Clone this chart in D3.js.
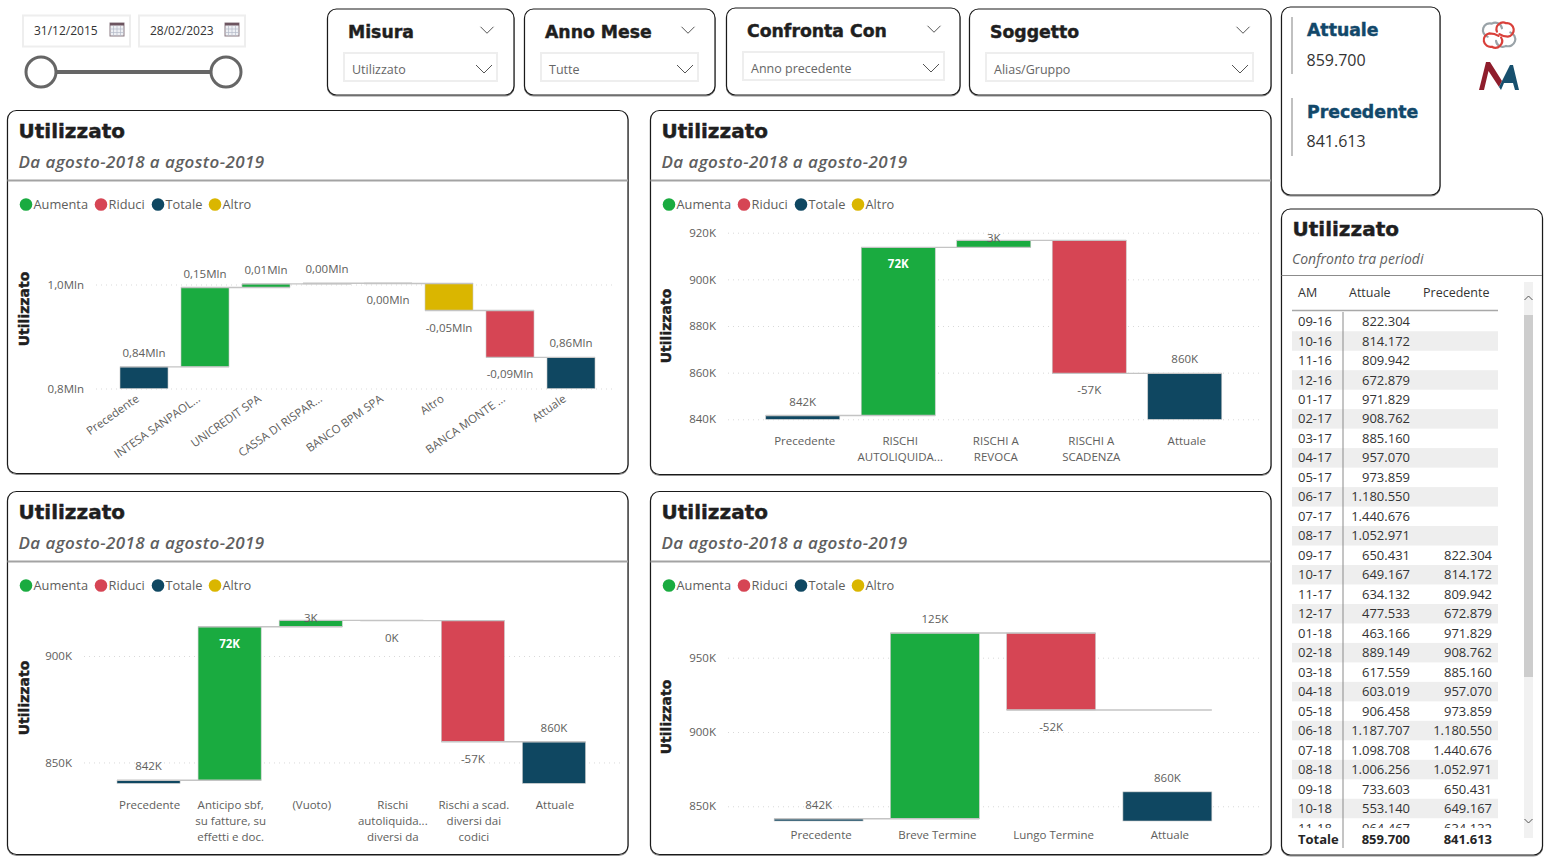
<!DOCTYPE html>
<html>
<head>
<meta charset="utf-8">
<script src="https://cdn.jsdelivr.net/npm/d3@7"></script>
<style>
  html, body { margin: 0; background: #fff; }
  svg { display: block; }
  text { font-family: "Open Sans", sans-serif; }
  .heavy { font-family: "DejaVu Sans", sans-serif; font-weight: 700; fill: #1f1f1f; stroke: #1f1f1f; stroke-width: 0.45px; }
  .axis path { display: none; }
  .axis text { font-size: 11.5px; fill: #605e5c; font-family: "Open Sans", sans-serif; }
  .y-axis line { stroke: #d9d9d9; stroke-dasharray: 1 4; }
  .x-axis line { display: none; }
</style>
</head>
<body>
<svg id="page" width="1547" height="860"></svg>
<script>
// Colours of the waterfall
const kinds = ["Aumenta", "Riduci", "Totale", "Altro"];
const kindColors = ["#1aab40", "#d64554", "#0f4761", "#dab600"];

// Chart 1: by bank
const cats1 = ["Precedente", "INTESA SANPAOL...", "UNICREDIT SPA", "CASSA DI RISPAR...", "BANCO BPM SPA", "Altro", "BANCA MONTE ...", "Attuale"];
const deltas1 = [841613, 152600, 6900, 1200, -300, -52100, -90013, 859700];
const types1 = ["Totale", "Aumenta", "Aumenta", "Aumenta", "Riduci", "Altro", "Riduci", "Totale"];
const labels1 = ["0,84Mln", "0,15Mln", "0,01Mln", "0,00Mln", "0,00Mln", "-0,05Mln", "-0,09Mln", "0,86Mln"];
const sides1 = ["out", "out", "out", "out", "out", "out", "out", "out"];
const ticks1 = [800000, 1000000];
const tickLabels1 = ["0,8Mln", "1,0Mln"];

// Chart 2: by risk type
const cats2 = ["Precedente", "RISCHI\nAUTOLIQUIDA...", "RISCHI A\nREVOCA", "RISCHI A\nSCADENZA", "Attuale"];
const deltas2 = [841613, 72100, 3000, -57013, 859700];
const types2 = ["Totale", "Aumenta", "Aumenta", "Riduci", "Totale"];
const labels2 = ["842K", "72K", "3K", "-57K", "860K"];
const sides2 = ["out", "in", "on", "out", "out"];
const ticks2 = [840000, 860000, 880000, 900000, 920000];
const tickLabels2 = ["840K", "860K", "880K", "900K", "920K"];

// Chart 3: by product
const cats3 = ["Precedente", "Anticipo sbf,\nsu fatture, su\neffetti e doc.", "(Vuoto)", "Rischi\nautoliquida...\ndiversi da\nfatture", "Rischi a scad.\ndiversi dai\ncodici\nprecedenti", "Attuale"];
const deltas3 = [841613, 72100, 3000, -100, -56913, 859700];
const types3 = ["Totale", "Aumenta", "Aumenta", "Riduci", "Riduci", "Totale"];
const labels3 = ["842K", "72K", "3K", "0K", "-57K", "860K"];
const sides3 = ["out", "in", "on", "out", "out", "out"];
const ticks3 = [850000, 900000];
const tickLabels3 = ["850K", "900K"];

// Chart 4: by term
const cats4 = ["Precedente", "Breve Termine", "Lungo Termine", "Attuale"];
const deltas4 = [841613, 125000, -51800, 859700];
const types4 = ["Totale", "Aumenta", "Riduci", "Totale"];
const labels4 = ["842K", "125K", "-52K", "860K"];
const sides4 = ["out", "out", "out", "out"];
const ticks4 = [850000, 900000, 950000];
const tickLabels4 = ["850K", "900K", "950K"];

// Table
const months = ["09-16", "10-16", "11-16", "12-16", "01-17", "02-17", "03-17", "04-17", "05-17", "06-17", "07-17", "08-17", "09-17", "10-17", "11-17", "12-17", "01-18", "02-18", "03-18", "04-18", "05-18", "06-18", "07-18", "08-18", "09-18", "10-18", "11-18"];
const attuale = ["822.304", "814.172", "809.942", "672.879", "971.829", "908.762", "885.160", "957.070", "973.859", "1.180.550", "1.440.676", "1.052.971", "650.431", "649.167", "634.132", "477.533", "463.166", "889.149", "617.559", "603.019", "906.458", "1.187.707", "1.098.708", "1.006.256", "733.603", "553.140", "964.467"];
const precedente = ["", "", "", "", "", "", "", "", "", "", "", "", "822.304", "814.172", "809.942", "672.879", "971.829", "908.762", "885.160", "957.070", "973.859", "1.180.550", "1.440.676", "1.052.971", "650.431", "649.167", "634.132"];

const svg = d3.select("#page");
const color = d3.scaleOrdinal(kinds, kindColors);

// Rounded card with the darker bottom edge
function card(x, y, w, h) {
  svg.append("rect").attr("x", x).attr("y", y + 1).attr("width", w).attr("height", h)
    .attr("rx", 9).attr("fill", "none").attr("stroke", "#8c8c8c").attr("stroke-width", 1.2);
  svg.append("rect").attr("x", x).attr("y", y).attr("width", w).attr("height", h)
    .attr("rx", 9).attr("fill", "#fff").attr("stroke", "#1a1a1a").attr("stroke-width", 1.2);
}

function chevron(x, y, size, stroke) {
  svg.append("path")
    .attr("d", `M${x - size / 2},${y - size / 4}L${x},${y + size / 4}L${x + size / 2},${y - size / 4}`)
    .attr("fill", "none").attr("stroke", stroke).attr("stroke-width", 1);
}

function txt(x, y, s, size, fill, cls) {
  return svg.append("text").attr("x", x).attr("y", y).attr("dy", "0.35em")
    .attr("font-size", size).attr("fill", fill).attr("class", cls || null).text(s);
}

// ---- date range slicer ----
function dateBox(x, w, s) {
  svg.append("rect").attr("x", x).attr("y", 15.5).attr("width", w).attr("height", 31)
    .attr("fill", "#fff").attr("stroke", "#eeeeee").attr("stroke-width", 2);
  txt(x + 11, 31, s, 12, "#333");
  const ix = x + w - 20;
  svg.append("rect").attr("x", ix).attr("y", 23).attr("width", 14).attr("height", 13)
    .attr("fill", "#eef0f4").attr("stroke", "#8a7a82");
  svg.append("rect").attr("x", ix).attr("y", 23).attr("width", 14).attr("height", 2.5).attr("fill", "#6d5560");
  svg.append("path").attr("d", `M${ix + 3.5},26V36M${ix + 7},26V36M${ix + 10.5},26V36M${ix},29H${ix + 14}M${ix},32.5H${ix + 14}`)
    .attr("stroke", "#b5bac8").attr("stroke-width", 0.7);
}
dateBox(23, 107, "31/12/2015");
dateBox(139, 106, "28/02/2023");
svg.append("line").attr("x1", 41).attr("x2", 226).attr("y1", 72).attr("y2", 72)
  .attr("stroke", "#666").attr("stroke-width", 4);
[41, 226].forEach(x => {
  svg.append("circle").attr("cx", x).attr("cy", 72).attr("r", 15)
    .attr("fill", "#fff").attr("stroke", "#666").attr("stroke-width", 3);
});

// ---- dropdown slicers ----
const slicers = [
  { x: 327.5, y: 9, w: 186.5, h: 86, title: "Misura", value: "Utilizzato", bx: 344, bw: 153 },
  { x: 524.5, y: 9, w: 190.5, h: 86, title: "Anno Mese", value: "Tutte", bx: 541, bw: 157 },
  { x: 726.5, y: 8, w: 233.5, h: 87, title: "Confronta Con", value: "Anno precedente", bx: 743, bw: 201 },
  { x: 969.5, y: 9, w: 301.5, h: 86, title: "Soggetto", value: "Alias/Gruppo", bx: 986, bw: 267 }
];
slicers.forEach(s => {
  card(s.x, s.y, s.w, s.h);
  txt(s.bx + 4, s.y + 23, s.title, 17.3, "#1f1f1f", "heavy");
  chevron(s.bx + s.bw - 10, s.y + 21, 13, "#555");
  svg.append("rect").attr("x", s.bx).attr("y", s.y + 44).attr("width", s.bw).attr("height", 28)
    .attr("fill", "#fff").attr("stroke", "#eeeeee").attr("stroke-width", 2);
  txt(s.bx + 8, s.y + 60.5, s.value, 12.5, "#666");
  chevron(s.bx + s.bw - 13, s.y + 60, 16, "#555");
});

// ---- KPI card ----
card(1281.5, 7, 158.5, 188);
[[17, 74], [98, 156]].forEach(([a, b]) => {
  svg.append("line").attr("x1", 1292).attr("x2", 1292).attr("y1", a).attr("y2", b)
    .attr("stroke", "#c0c0c0").attr("stroke-width", 2);
});
txt(1307, 30, "Attuale", 17.3, "#12486a", "heavy").style("fill", "#12486a").style("stroke", "#12486a");
txt(1306.5, 60, "859.700", 16, "#333");
txt(1307, 112, "Precedente", 17.3, "#12486a", "heavy").style("fill", "#12486a").style("stroke", "#12486a");
txt(1306.5, 141, "841.613", 16, "#333");

// ---- logo ----
const logo = svg.append("g").attr("fill", "none").attr("stroke-width", 2.6).attr("stroke-linecap", "round")
  .attr("transform", "translate(1499,35) scale(0.84) translate(-1499.5,-35)");
logo.append("path").attr("d", "M1486,37A8,8 0 0 1 1491,21.5A8,8 0 0 1 1503,27").attr("stroke", "#9aa3a8");
logo.append("path").attr("d", "M1513,32A8,8 0 0 1 1508,48A8,8 0 0 1 1496,42").attr("stroke", "#9aa3a8");
logo.append("path").attr("d", "M1497,31A8,8 0 0 1 1508,21A8,8 0 0 1 1510,37C1506,37 1503,36 1500,34").attr("stroke", "#d9403a");
logo.append("path").attr("d", "M1502,38A8,8 0 0 1 1491,49A8,8 0 0 1 1488,33C1492,33 1496,34 1499,36").attr("stroke", "#d9403a");
svg.append("path").attr("d", "M1479,90L1486,62L1490,62L1502,81L1499,87L1488.5,71L1484,90Z").attr("fill", "#8f1d2c");
svg.append("path").attr("d", "M1499,87L1510,65L1513,65L1519,90L1515,90L1513,83L1504,83L1501,90Z").attr("fill", "#17506e");

// ---- waterfall panels ----
function waterfall(cfg) {
  const { x, y, w, h, cats, deltas, types, labels, sides, ticks, tickLabels, domain, yRange, xRange, gridRange, inner, titleY, rotate } = cfg;
  card(x, y, w, h);
  txt(x + 11, y + 20.5, "Utilizzato", 20, "#1f1f1f", "heavy");
  txt(x + 11, y + 52, "Da agosto-2018 a agosto-2019", 17, "#5f5f5f")
    .attr("font-style", "italic").attr("font-weight", 600).attr("letter-spacing", 0.4);
  svg.append("line").attr("x1", x).attr("x2", x + w).attr("y1", y + 70).attr("y2", y + 70)
    .attr("stroke", "#a3a3a3").attr("stroke-width", 2);

  // legend
  const legendX = [18.5, 93.5, 150.5, 207.5];
  kinds.forEach((k, i) => {
    svg.append("circle").attr("cx", x + legendX[i]).attr("cy", y + 94).attr("r", 6.3).attr("fill", color(k));
    txt(x + legendX[i] + 7.5, y + 94, k, 12.8, "#605e5c");
  });

  const yScale = d3.scaleLinear().domain(domain).range(yRange);
  const xScale = d3.scaleBand().domain(cats).range(xRange).paddingInner(inner).paddingOuter(inner / 2);

  // y axis with the dotted grid
  svg.append("g").attr("class", "axis y-axis")
    .attr("transform", `translate(${gridRange[0]},0)`)
    .call(d3.axisLeft(yScale).tickValues(ticks)
      .tickFormat((d, i) => tickLabels[i])
      .tickSizeInner(-(gridRange[1] - gridRange[0])).tickSizeOuter(0).tickPadding(12));

  // x axis, labels wrap on newlines; the panel edge cuts the long ones
  const clipId = "clip" + x + "-" + y;
  svg.append("clipPath").attr("id", clipId).append("rect")
    .attr("x", x).attr("y", y).attr("width", w).attr("height", h - 6.5);
  const xAxis = svg.append("g").attr("clip-path", `url(#${clipId})`)
    .append("g").attr("class", "axis x-axis")
    .attr("transform", `translate(${cfg.labelShift || 0},${yScale(domain[0])})`)
    .call(d3.axisBottom(xScale).tickSize(0).tickPadding(0));
  xAxis.selectAll("text").each(function (d) {
    const t = d3.select(this).text(null);
    if (rotate) {
      t.text(d).attr("text-anchor", "end").attr("y", 0).attr("dy", 0)
        .attr("transform", `translate(-4,${cfg.labelY}) rotate(-35)`);
      return;
    }
    t.attr("y", cfg.labelY).attr("dy", 0);
    d.split("\n").forEach((line, i) => {
      t.append("tspan").attr("x", 0).attr("dy", i ? 16 : 0).text(line);
    });
  });

  // running totals for the steps
  let run = 0;
  const steps = deltas.map((d, i) => {
    if (types[i] === "Totale") {
      run = d;
      return { cat: cats[i], type: types[i], a: domain[0], b: d, end: d, label: labels[i], side: sides[i], up: true };
    }
    const a = run;
    run += d;
    return { cat: cats[i], type: types[i], a, b: run, end: run, label: labels[i], side: sides[i], up: d >= 0 };
  });

  svg.append("g").selectAll("rect").data(steps).enter().append("rect")
    .attr("x", d => xScale(d.cat))
    .attr("width", xScale.bandwidth())
    .attr("y", d => yScale(Math.max(d.a, d.b)))
    .attr("height", d => Math.abs(yScale(d.a) - yScale(d.b)))
    .attr("fill", d => color(d.type))
    .attr("stroke", "#c9c9c9").attr("stroke-width", 0.6);

  // connectors run from this bar's left to the next bar's right
  svg.append("g").selectAll("line").data(steps.slice(0, -1)).enter().append("line")
    .attr("x1", d => xScale(d.cat))
    .attr("x2", (d, i) => xScale(steps[i + 1].cat) + xScale.bandwidth())
    .attr("y1", d => yScale(d.end))
    .attr("y2", d => yScale(d.end))
    .attr("stroke", "#c4c4c4").attr("stroke-width", 1.4);

  // value labels
  svg.append("g").selectAll("text").data(steps).enter().append("text")
    .attr("x", d => xScale(d.cat) + xScale.bandwidth() / 2)
    .attr("y", d => {
      const top = yScale(Math.max(d.a, d.b));
      const bottom = yScale(Math.min(d.a, d.b));
      if (d.side === "in") return top + 17;
      if (d.side === "on") return top - 2;
      return d.up ? top - 14 : bottom + 17;
    })
    .attr("dy", "0.35em").attr("text-anchor", "middle").attr("font-size", 11.5)
    .attr("font-weight", d => d.side === "in" ? 700 : 400)
    .attr("fill", d => d.side === "in" ? "#fff" : "#605e5c")
    .text(d => d.label);

  // axis title
  svg.append("text").attr("class", "heavy").attr("font-size", 14)
    .attr("text-anchor", "middle").attr("dy", "0.35em")
    .attr("transform", `translate(${cfg.titleX},${titleY}) rotate(-90)`)
    .text("Utilizzato");
}

waterfall({
  x: 7.5, y: 110.5, w: 620.5, h: 363,
  cats: cats1, deltas: deltas1, types: types1, labels: labels1, sides: sides1,
  ticks: ticks1, tickLabels: tickLabels1,
  domain: [800000, 1000000], yRange: [388.5, 284.5],
  xRange: [113.5, 601.5], inner: 0.213, gridRange: [96, 616],
  titleX: 24, titleY: 309, rotate: true, labelY: 12
});
waterfall({
  x: 650.5, y: 110.5, w: 620.5, h: 364,
  cats: cats2, deltas: deltas2, types: types2, labels: labels2, sides: sides2,
  ticks: ticks2, tickLabels: tickLabels2,
  domain: [840000, 920000], yRange: [419.3, 232.7],
  xRange: [755, 1232.5], inner: 0.225, gridRange: [728, 1262],
  titleX: 666.5, titleY: 326, labelY: 25.5, labelShift: 2
});
waterfall({
  x: 7.5, y: 491.5, w: 620.5, h: 363,
  cats: cats3, deltas: deltas3, types: types3, labels: labels3, sides: sides3,
  ticks: ticks3, tickLabels: tickLabels3,
  domain: [840200, 900000], yRange: [783.3, 656],
  xRange: [108, 594.5], inner: 0.222, gridRange: [84, 620],
  titleX: 24, titleY: 698, labelY: 25.5, labelShift: 1
});
waterfall({
  x: 650.5, y: 491.5, w: 620.5, h: 363,
  cats: cats4, deltas: deltas4, types: types4, labels: labels4, sides: sides4,
  ticks: ticks4, tickLabels: tickLabels4,
  domain: [840100, 950000], yRange: [821, 657.7],
  xRange: [760.5, 1225.5], inner: 0.235, gridRange: [728, 1262],
  titleX: 666.5, titleY: 717, labelY: 18, labelShift: 2.5
});

// ---- table panel ----
card(1281.5, 209, 261, 646);
txt(1292.5, 228.5, "Utilizzato", 20, "#1f1f1f", "heavy");
txt(1292, 259, "Confronto tra periodi", 14, "#5f5f5f").attr("font-style", "italic");
svg.append("line").attr("x1", 1281.5).attr("x2", 1542).attr("y1", 275.5).attr("y2", 275.5)
  .attr("stroke", "#8c8c8c").attr("stroke-width", 1.2);

txt(1298, 292.5, "AM", 12.5, "#333");
txt(1349, 292.5, "Attuale", 12.5, "#333");
txt(1423, 292.5, "Precedente", 12.5, "#333");
svg.append("line").attr("x1", 1292).attr("x2", 1498).attr("y1", 310.5).attr("y2", 310.5)
  .attr("stroke", "#a8a8a8").attr("stroke-width", 1.4);

svg.append("clipPath").attr("id", "rows-clip").append("rect")
  .attr("x", 1285).attr("y", 312).attr("width", 230).attr("height", 516);

const rowY = d3.scaleLinear().domain([0, 25]).range([321.5, 808.5]);
const rows = svg.append("g").attr("clip-path", "url(#rows-clip)")
  .selectAll("g").data(months).enter().append("g")
  .attr("transform", (d, i) => `translate(0,${rowY(i)})`);
rows.filter((d, i) => i % 2 === 1).append("rect")
  .attr("x", 1292).attr("y", -9.75).attr("width", 206).attr("height", 19.5).attr("fill", "#eeeeee");
rows.append("text").attr("x", 1298).attr("dy", "0.35em").attr("font-size", 13).attr("fill", "#333").text(d => d);
rows.append("text").attr("x", 1410).attr("dy", "0.35em").attr("text-anchor", "end")
  .attr("font-size", 13).attr("fill", "#333").text((d, i) => attuale[i]);
rows.append("text").attr("x", 1492).attr("dy", "0.35em").attr("text-anchor", "end")
  .attr("font-size", 13).attr("fill", "#333").text((d, i) => precedente[i]);

txt(1298, 839, "Totale", 13, "#252525").attr("font-weight", 700);
txt(1410, 839, "859.700", 13, "#252525").attr("font-weight", 700).attr("text-anchor", "end");
txt(1492, 839, "841.613", 13, "#252525").attr("font-weight", 700).attr("text-anchor", "end");
svg.append("line").attr("x1", 1343).attr("x2", 1343).attr("y1", 312).attr("y2", 848)
  .attr("stroke", "#8a8a8a").attr("stroke-width", 1);

// scrollbar
svg.append("rect").attr("x", 1524).attr("y", 282).attr("width", 9).attr("height", 556).attr("fill", "#f1f1f1");
svg.append("rect").attr("x", 1524).attr("y", 315).attr("width", 9).attr("height", 362).attr("fill", "#cdcdcd");
svg.append("path").attr("d", "M1524.5,300L1528.5,296L1532.5,300").attr("fill", "none").attr("stroke", "#555");
svg.append("path").attr("d", "M1524.5,819L1528.5,823L1532.5,819").attr("fill", "none").attr("stroke", "#555");
</script>
</body>
</html>
